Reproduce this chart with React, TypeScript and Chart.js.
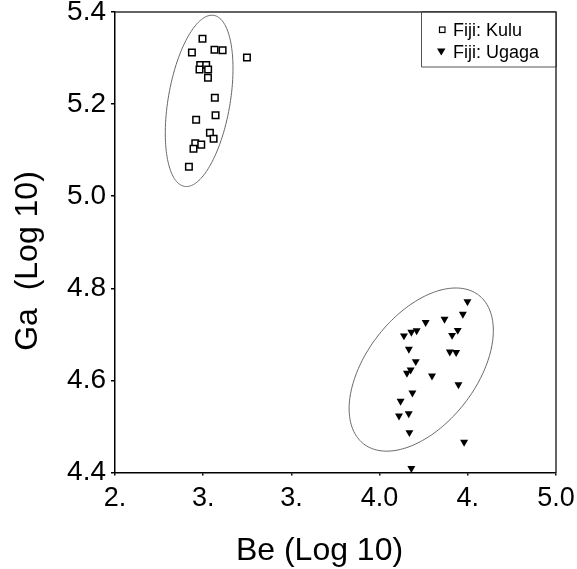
import React, { useEffect, useRef } from "react";
import { Chart, registerables } from "chart.js";

Chart.register(...registerables);

// Data (log10 values)
const kuluBe = [2.996, 2.936, 3.064, 3.110, 3.248, 2.983, 3.017, 2.979, 3.028, 3.027, 3.066, 3.070, 2.960, 3.038, 3.059, 2.955, 2.989, 2.945, 2.919];
const kuluGa = [5.342, 5.312, 5.318, 5.317, 5.301, 5.285, 5.285, 5.275, 5.275, 5.257, 5.214, 5.176, 5.166, 5.138, 5.125, 5.115, 5.112, 5.103, 5.064];

const ugagaBe = [4.498, 4.472, 4.368, 4.261, 4.210, 4.180, 4.138, 4.443, 4.411, 4.166, 4.398, 4.434, 4.205, 4.176, 4.155, 4.297, 4.447, 4.186, 4.119, 4.165, 4.110, 4.169, 4.479, 4.180];
const ugagaGa = [4.771, 4.744, 4.733, 4.726, 4.708, 4.705, 4.697, 4.709, 4.698, 4.668, 4.662, 4.661, 4.641, 4.623, 4.616, 4.610, 4.591, 4.573, 4.555, 4.528, 4.523, 4.487, 4.466, 4.409];

// Confidence ellipses: centre and two conjugate semi-diameters (data units)
const ellipseCenterBe = [2.977, 4.236];
const ellipseCenterGa = [5.207, 4.6235];
const ellipseMajorBe = [0.083, 0.326];
const ellipseMajorGa = [0.1857, 0.1615];
const ellipseMinorBe = [0.173, 0.2466];
const ellipseMinorGa = [-0.0113, -0.0728];

const xTickValues = [2.5, 3.0, 3.5, 4.0, 4.5, 5.0];
const xTickLabels = ["2.", "3.", "3.", "4.0", "4.", "5.0"];
const yTickValues = [4.4, 4.6, 4.8, 5.0, 5.2, 5.4];
const yTickLabels = ["4.4", "4.6", "4.8", "5.0", "5.2", "5.4"];

const seriesNames = ["Fiji: Kulu", "Fiji: Ugaga"];
const xTitle = "Be (Log 10)";
const yTitle = "Ga  (Log 10)";

const FONT = '"Liberation Sans", Arial, sans-serif';

const overlayPlugin = {
  id: "overlay",
  afterDatasetsDraw(chart: any) {
    const ctx = chart.ctx;
    const xs = chart.scales.x;
    const ys = chart.scales.y;
    ctx.save();
    ctx.strokeStyle = "#666";
    ctx.lineWidth = 1;
    for (let e = 0; e < ellipseCenterBe.length; e++) {
      ctx.beginPath();
      for (let i = 0; i <= 200; i++) {
        const t = (i / 200) * Math.PI * 2;
        const bx = ellipseCenterBe[e] + Math.cos(t) * ellipseMajorBe[e] + Math.sin(t) * ellipseMinorBe[e];
        const gy = ellipseCenterGa[e] + Math.cos(t) * ellipseMajorGa[e] + Math.sin(t) * ellipseMinorGa[e];
        const px = xs.getPixelForValue(bx);
        const py = ys.getPixelForValue(gy);
        if (i === 0) ctx.moveTo(px, py);
        else ctx.lineTo(px, py);
      }
      ctx.closePath();
      ctx.stroke();
    }
    ctx.restore();
  },
  afterDraw(chart: any) {
    const ctx = chart.ctx;
    const a = chart.chartArea;
    ctx.save();
    // top & right frame
    ctx.strokeStyle = "#333";
    ctx.lineWidth = 1.5;
    ctx.beginPath();
    ctx.moveTo(a.left, a.top);
    ctx.lineTo(a.right, a.top);
    ctx.lineTo(a.right, a.bottom);
    ctx.stroke();

    // legend
    const lx = a.right - 134.5;
    const ly = a.top;
    ctx.fillStyle = "#fff";
    ctx.fillRect(lx, ly, a.right - lx, 55);
    ctx.strokeStyle = "#555";
    ctx.lineWidth = 1;
    ctx.beginPath();
    ctx.moveTo(lx, ly);
    ctx.lineTo(lx, ly + 55);
    ctx.lineTo(a.right, ly + 55);
    ctx.stroke();
    ctx.strokeStyle = "#333";
    ctx.lineWidth = 1.5;
    ctx.beginPath();
    ctx.moveTo(a.right, ly);
    ctx.lineTo(a.right, ly + 55);
    ctx.moveTo(lx, ly);
    ctx.lineTo(a.right, ly);
    ctx.stroke();

    // markers
    ctx.strokeStyle = "#000";
    ctx.lineWidth = 1.2;
    ctx.strokeRect(lx + 18, ly + 15, 5.5, 5.5);
    ctx.fillStyle = "#000";
    ctx.beginPath();
    ctx.moveTo(lx + 15.5, ly + 36.5);
    ctx.lineTo(lx + 24, ly + 36.5);
    ctx.lineTo(lx + 19.75, ly + 43.5);
    ctx.closePath();
    ctx.fill();

    ctx.font = "18px " + FONT;
    ctx.textAlign = "left";
    ctx.textBaseline = "alphabetic";
    ctx.fillText(seriesNames[0], lx + 31.5, ly + 23.5);
    ctx.fillText(seriesNames[1], lx + 31.5, ly + 46);

    // axis titles
    ctx.font = "32px " + FONT;
    ctx.textAlign = "center";
    ctx.fillText(xTitle, 319.5, 560);
    ctx.translate(37, 261);
    ctx.rotate(-Math.PI / 2);
    ctx.fillText(yTitle, 0, 0);
    ctx.restore();
  },
};

export default function App() {
  const ref = useRef<HTMLCanvasElement>(null);
  useEffect(() => {
    document.body.style.margin = "0";
    const chart = new Chart(ref.current as HTMLCanvasElement, {
      type: "scatter",
      data: {
        datasets: [
          {
            label: seriesNames[0],
            data: kuluBe.map((x, i) => ({ x, y: kuluGa[i] })),
            pointStyle: "rect",
            pointRadius: 4.6,
            borderColor: "#000",
            backgroundColor: "#fff",
            borderWidth: 1.5,
          },
          {
            label: seriesNames[1],
            data: ugagaBe.map((x, i) => ({ x, y: ugagaGa[i] })),
            pointStyle: "triangle",
            pointRotation: 180,
            pointRadius: 4.6,
            borderColor: "#000",
            backgroundColor: "#000",
            borderWidth: 0,
          },
        ],
      },
      options: {
        animation: false,
        responsive: false,
        layout: { padding: { top: 12, right: 21, left: 0, bottom: 0 } },
        plugins: { legend: { display: false }, tooltip: { enabled: false } },
        scales: {
          x: {
            type: "linear",
            min: 2.5,
            max: 5.0,
            afterBuildTicks: (s: any) => {
              s.ticks = xTickValues.map((v) => ({ value: v }));
            },
            afterFit: (s: any) => {
              s.height = 96.5;
              s.paddingLeft = 0;
              s.paddingRight = 0;
            },
            ticks: {
              color: "#000",
              font: { family: FONT, size: 27 },
              padding: 7,
              maxRotation: 0,
              autoSkip: false,
              callback: (_v: any, i: number) => xTickLabels[i],
            },
            grid: { display: true, drawOnChartArea: false, drawTicks: true, tickLength: 3, color: "#000", lineWidth: 1.5 },
            border: { display: true, color: "#000", width: 1.5 },
          },
          y: {
            type: "linear",
            min: 4.4,
            max: 5.4,
            afterBuildTicks: (s: any) => {
              s.ticks = yTickValues.map((v) => ({ value: v }));
            },
            afterFit: (s: any) => {
              s.width = 115;
              s.paddingTop = 0;
              s.paddingBottom = 0;
            },
            ticks: {
              color: "#000",
              font: { family: FONT, size: 28 },
              padding: 5,
              autoSkip: false,
              callback: (_v: any, i: number) => yTickLabels[i],
            },
            grid: { display: true, drawOnChartArea: false, drawTicks: true, tickLength: 4, color: "#000", lineWidth: 1.5 },
            border: { display: true, color: "#000", width: 1.5 },
          },
        },
      },
      plugins: [overlayPlugin],
    } as any);
    return () => chart.destroy();
  }, []);
  return (
    <div style={{ position: "fixed", left: 0, top: 0, width: 577, height: 569, background: "#fff" }}>
      <canvas ref={ref} width={577} height={569} style={{ display: "block", width: 577, height: 569 }} />
    </div>
  );
}
